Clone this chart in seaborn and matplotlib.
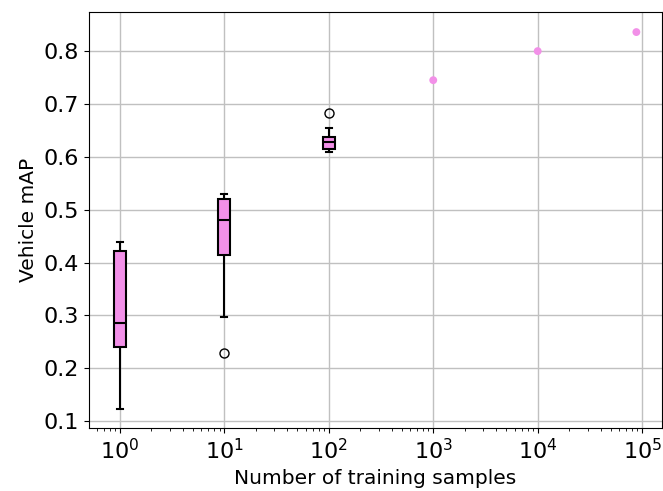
import numpy as np
import pandas as pd
import matplotlib
matplotlib.use("Agg")
import matplotlib.pyplot as plt
import seaborn as sns

# Box-plot groups (repeated runs)
box_n = [1] * 9 + [10] * 9 + [100] * 9
box_map = [0.122, 0.200, 0.240, 0.260, 0.285, 0.350, 0.422, 0.430, 0.438,
           0.228, 0.297, 0.414, 0.450, 0.481, 0.500, 0.521, 0.525, 0.529,
           0.609, 0.612, 0.615, 0.620, 0.628, 0.632, 0.637, 0.655, 0.683]

# Single-run points
pt_n = [1000, 10000, 88000]
pt_map = [0.745, 0.800, 0.836]

df_box = pd.DataFrame({"n": box_n, "map": box_map})
df_pt = pd.DataFrame({"n": pt_n, "map": pt_map})

fig, ax = plt.subplots(figsize=(6.63, 4.91), dpi=100)
fig.subplots_adjust(left=0.134, right=0.9985, top=0.9756, bottom=0.128)

fill = "#F290E8"
sns.boxplot(data=df_box, x="n", y="map", native_scale=True, log_scale=(True, False),
            width=0.115, color=fill, saturation=1, linecolor="black",
            linewidth=1.5, fliersize=6.5,
            flierprops=dict(marker="o", markerfacecolor="none", markeredgecolor="black"),
            ax=ax)
sns.scatterplot(data=df_pt, x="n", y="map", color=fill, s=32, edgecolor="none", ax=ax)

ax.set_xscale("log")
ax.set_xlim(10 ** -0.297, 10 ** 5.19)
ax.set_ylim(0.0867, 0.874)
ax.set_yticks([0.1, 0.2, 0.3, 0.4, 0.5, 0.6, 0.7, 0.8])
ax.set_xticks([1, 10, 100, 1000, 10000, 100000])
ax.grid(True, which="major", color="#c0c0c0", linewidth=1.0)
ax.set_axisbelow(True)
ax.tick_params(axis="both", which="major", labelsize=16)
ax.set_xlabel("Number of training samples", fontsize=14.5)
ax.set_ylabel("Vehicle mAP", fontsize=14.5)

fig.savefig("out.png", dpi=100)
